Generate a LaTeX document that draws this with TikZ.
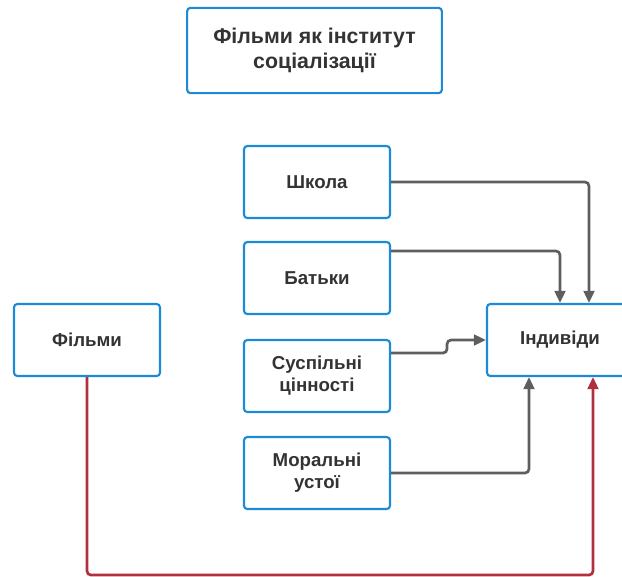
\documentclass[tikz,border=0pt]{standalone}
\usepackage{fontspec}
\setmainfont{Liberation Sans}
\usetikzlibrary{arrows.meta,positioning,calc}
\definecolor{boxblue}{HTML}{1C8AD4}
\definecolor{linegray}{HTML}{5E5E5E}
\definecolor{linered}{HTML}{B0303F}
\definecolor{txtgray}{HTML}{333333}
\begin{document}
\begin{tikzpicture}[x=0.75pt,y=-0.75pt,>={Triangle[length=9pt,width=8pt]},font=\bfseries\fontsize{14}{16.5}\selectfont,text=txtgray]
\useasboundingbox (0,0) rectangle (622,576);
\tikzstyle{box}=[draw=boxblue,line width=1.6pt,rounded corners=2.5pt,fill=white,minimum width=109.5pt,minimum height=54pt,align=center]
\tikzstyle{conn}=[line width=2pt,draw=linegray,rounded corners=3pt,->]
\node[box,minimum width=191pt,minimum height=64pt,font=\bfseries\fontsize{16}{18.75}\selectfont] (title) at (314.5,50.5) {Фільми як інститут\\соціалізації};
\node[box] (films) at (87,340) {Фільми};
\node[box] (indiv) at (560,340) {Індивіди};
\foreach \n/\y/\t in {school/182/Школа,parents/278/Батьки,values/376/Суспільні\\цінності,morals/473/Моральні\\устої} \node[box] (\n) at (317,\y) {\t};
\draw[conn] (school.east) -| ($(indiv.north)+(29,0)$);
\draw[conn] ($(parents.east)+(0,-27)$) -| (indiv.north);
\draw[conn] ($(values.east)+(0,-23)$) -- ++(56,0) |- (indiv.west);
\draw[conn] (morals.east) -| ($(indiv.south)+(-31,0)$);
\draw[conn,draw=linered] (films.south) -- ++(0,198) -| ($(indiv.south)+(33,0)$);
\end{tikzpicture}
\end{document}
